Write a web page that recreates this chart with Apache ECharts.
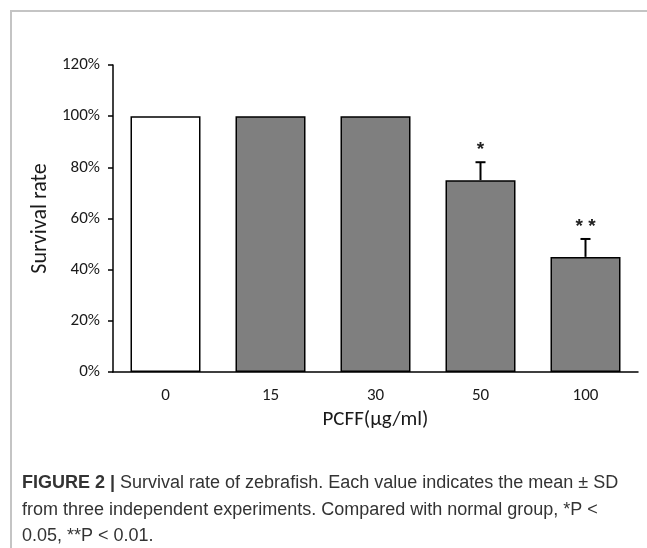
<!DOCTYPE html>
<html>
<head>
<meta charset="utf-8">
<script src="https://cdn.jsdelivr.net/npm/echarts@6/dist/echarts.min.js"></script>
<style>
html,body{margin:0;padding:0;background:#fff;}
#chart{width:647px;height:548px;}
</style>
</head>
<body>
<div id="chart"></div>
<script>
// ---- data ----
var categories = ['0', '15', '30', '50', '100'];
var survival = [100, 100, 100, 75, 45];     // mean survival rate (%)
var sd = [0, 0, 0, 7, 7];                   // standard deviation (%)
var sigMarks = ['', '', '', '*', '**'];     // significance markers
var yTicks = [0, 20, 40, 60, 80, 100, 120]; // tick labels (%)

// ---- styles ----
var barFills = ['#ffffff', '#7f7f7f', '#7f7f7f', '#7f7f7f', '#7f7f7f'];
var axisFont = 'Carlito, Lato, "Open Sans", sans-serif';
var capFont = '"Liberation Sans", Arial, sans-serif';

var chart = echarts.init(document.getElementById('chart'), null, {renderer: 'canvas'});

var barData = survival.map(function (v, i) {
  return {value: v, itemStyle: {color: barFills[i]}};
});
var errData = survival.map(function (v, i) { return [i, v, sd[i]]; });

var option = {
  animation: false,
  backgroundColor: '#ffffff',
  grid: {left: 113, right: 9, top: 65, bottom: 176, containLabel: false},
  xAxis: {
    type: 'category',
    data: categories,
    name: 'PCFF(µg/ml)',
    nameLocation: 'middle',
    nameGap: 34,
    nameTextStyle: {fontFamily: axisFont, fontSize: 21, color: '#1a1a1a'},
    axisLine: {lineStyle: {color: '#000', width: 1.5}},
    axisTick: {show: false},
    axisLabel: {fontFamily: axisFont, fontSize: 17, color: '#1a1a1a', margin: 15},
    splitLine: {show: false}
  },
  yAxis: {
    type: 'value',
    min: yTicks[0],
    max: yTicks[yTicks.length - 1],
    interval: yTicks[1] - yTicks[0],
    name: 'Survival rate',
    nameLocation: 'middle',
    nameGap: 57,
    nameTextStyle: {fontFamily: axisFont, fontSize: 22, color: '#1a1a1a'},
    axisLine: {show: true, lineStyle: {color: '#000', width: 1.5}},
    axisTick: {show: true, length: 5, lineStyle: {color: '#000', width: 1.5}},
    axisLabel: {fontFamily: axisFont, fontSize: 17, color: '#1a1a1a', margin: 13, formatter: '{value}%'},
    splitLine: {show: false}
  },
  series: [
    {
      type: 'bar',
      data: barData,
      barWidth: 70,
      itemStyle: {borderColor: '#000', borderWidth: 1.5},
      z: 2
    },
    {
      type: 'custom',
      data: errData,
      z: 3,
      renderItem: function (params, api) {
        var x = api.value(0), v = api.value(1), s = api.value(2);
        var base = api.coord([x, v]);
        var top = api.coord([x, v + s]);
        var children = [];
        if (s > 0) {
          children.push({type: 'line', shape: {x1: base[0], y1: base[1], x2: top[0], y2: top[1]},
            style: {stroke: '#000', lineWidth: 2}});
          children.push({type: 'line', shape: {x1: top[0] - 5, y1: top[1], x2: top[0] + 5, y2: top[1]},
            style: {stroke: '#000', lineWidth: 2}});
        }
        var mark = sigMarks[params.dataIndex];
        if (mark) {
          children.push({type: 'text', x: top[0], y: top[1] - 12,
            style: {text: mark.split('').join(' '), fontFamily: '"Liberation Sans", Arial, sans-serif',
              fontSize: 19, fontWeight: 'bold', fill: '#222',
              align: 'center', verticalAlign: 'middle'}});
        }
        return {type: 'group', children: children};
      }
    }
  ],
  graphic: [
    {type: 'line', shape: {x1: 10, y1: 11, x2: 647, y2: 11}, style: {stroke: '#c4c4c4', lineWidth: 2}, silent: true},
    {type: 'line', shape: {x1: 11, y1: 10, x2: 11, y2: 548}, style: {stroke: '#c4c4c4', lineWidth: 2}, silent: true},
    {
      type: 'text', left: 22, top: 470, silent: true,
      style: {
        text: '{b|FIGURE 2 |} Survival rate of zebrafish. Each value indicates the mean ± SD\nfrom three independent experiments. Compared with normal group, *P <\n0.05, **P < 0.01.',
        fontFamily: capFont, fontSize: 18, lineHeight: 26.5, fill: '#333',
        rich: {b: {fontFamily: capFont, fontSize: 18, fontWeight: 'bold', fill: '#333', lineHeight: 26.5}}
      }
    }
  ]
};
chart.setOption(option);
</script>
</body>
</html>
